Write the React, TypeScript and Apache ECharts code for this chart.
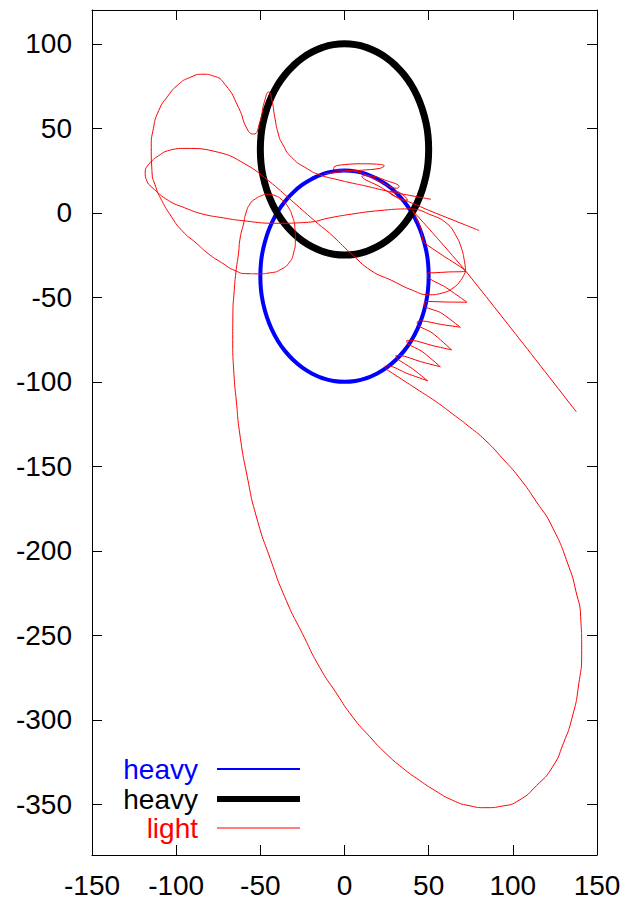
import React, { useEffect, useRef } from "react";
import * as echarts from "echarts";

// Axis ranges / ticks
const xRange = [-150, 150];
const yRange = [-380, 120];
const tickStep = 50;

// Legend labels
const legendLabels = ["heavy", "heavy", "light"];
const seriesColors = ["#0000ff", "#000000", "#ff0000"];

// Heavy body 1 (blue) orbit
const heavyBlue: number[][] = [
  [50, -37.5], [49.6, -29.3], [48.3, -21.3], [46.2, -13.6], [43.3, -6.2], [39.7, 0.6], [35.4, 6.7],
  [30.4, 12.1], [25, 16.6], [19.1, 20.2], [12.9, 22.9], [6.5, 24.5], [0, 25],
  [-6.5, 24.5], [-12.9, 22.9], [-19.1, 20.2], [-25, 16.6], [-30.4, 12.1], [-35.4, 6.7], [-39.7, 0.6],
  [-43.3, -6.2], [-46.2, -13.6], [-48.3, -21.3], [-49.6, -29.3], [-50, -37.5],
  [-49.6, -45.7], [-48.3, -53.7], [-46.2, -61.4], [-43.3, -68.8], [-39.7, -75.6], [-35.4, -81.7],
  [-30.4, -87.1], [-25, -91.6], [-19.1, -95.2], [-12.9, -97.9], [-6.5, -99.5], [0, -100],
  [6.5, -99.5], [12.9, -97.9], [19.1, -95.2], [25, -91.6], [30.4, -87.1], [35.4, -81.7], [39.7, -75.6],
  [43.3, -68.8], [46.2, -61.4], [48.3, -53.7], [49.6, -45.7], [50, -37.5],
];

// Heavy body 2 (black) orbit
const heavyBlack: number[][] = [
  [50, 37.5], [49.6, 45.7], [48.3, 53.7], [46.2, 61.4], [43.3, 68.8], [39.7, 75.6], [35.4, 81.7],
  [30.4, 87.1], [25, 91.6], [19.1, 95.2], [12.9, 97.9], [6.5, 99.5], [0, 100],
  [-6.5, 99.5], [-12.9, 97.9], [-19.1, 95.2], [-25, 91.6], [-30.4, 87.1], [-35.4, 81.7], [-39.7, 75.6],
  [-43.3, 68.8], [-46.2, 61.4], [-48.3, 53.7], [-49.6, 45.7], [-50, 37.5],
  [-49.6, 29.3], [-48.3, 21.3], [-46.2, 13.6], [-43.3, 6.2], [-39.7, -0.6], [-35.4, -6.7],
  [-30.4, -12.1], [-25, -16.6], [-19.1, -20.2], [-12.9, -22.9], [-6.5, -24.5], [0, -25],
  [6.5, -24.5], [12.9, -22.9], [19.1, -20.2], [25, -16.6], [30.4, -12.1], [35.4, -6.7], [39.7, -0.6],
  [43.3, 6.2], [46.2, 13.6], [48.3, 21.3], [49.6, 29.3], [50, 37.5],
];

// Light body: heart lobe + big lower loop
const lightMain: number[][] = [
  [51.4, 8], [35, 11], [24.7, 13], [12, 16], [4.9, 17.5], [-3.7, 19.5], [-14.8, 22.5],
  [-22, 26], [-31.4, 32.8], [-37, 41], [-39.3, 46.6], [-41.5, 57], [-43, 66], [-45, 71.5],
  [-47.5, 66], [-50.5, 53], [-54, 46.6], [-57.5, 49], [-63, 62.4], [-71, 76], [-78, 81],
  [-84, 82], [-92, 80], [-98.6, 76], [-105, 69], [-110.4, 60.4], [-113.5, 50], [-114.8, 38.7],
  [-114.4, 25], [-112, 15], [-108.5, 7.2], [-103, -2], [-96.6, -10.5], [-88, -18], [-80.8, -24.3],
  [-73, -29.5], [-65, -34.2], [-58, -36], [-51.2, -36.1], [-44, -35.5], [-37.3, -33.2],
  [-32.5, -29], [-30.4, -24.3], [-29.2, -16], [-29.5, -8.6], [-31, -2], [-33.4, 3.3],
  [-37, 7.5], [-41.3, 10.2], [-45.5, 11], [-49.2, 10.2], [-53, 8.2], [-56.1, 5.3], [-58.5, 0],
  [-60, -6.6], [-62, -15], [-63, -24.3], [-64.5, -35], [-65.5, -46], [-66.3, -60], [-66.4, -75],
  [-65.7, -95], [-64.2, -112], [-62.2, -130.9], [-57.8, -156], [-52.3, -180], [-44, -205],
  [-34.6, -229.4], [-25, -249], [-14.8, -268.9], [-5, -284], [4.9, -298.4], [15, -310],
  [24.7, -320], [34.5, -328.5], [44.5, -335.8], [54, -342], [64.2, -347.6], [74, -350.8],
  [84, -352], [94, -351], [103.7, -347.6], [114, -339], [123.5, -328], [130, -314],
  [135.3, -298.4], [139, -280], [140.9, -259], [140.3, -239], [137.5, -224], [133.4, -209.7],
  [123.5, -186], [114, -171], [103.7, -156.6], [94, -145.5], [84, -134.9], [74, -126.5],
  [64.2, -119], [54, -111.5], [44.5, -105.3], [34, -98.5], [24.7, -92.5],
];

// Light body: spikes along the blue orbit and the escape
const lightSpikes: number[][] = [
  [24.7, -92.5], [24, -91], [26, -90.5], [37, -95], [49.4, -99.4], [40, -92], [31.5, -86.5],
  [30.5, -84.5], [33, -84.5], [45, -88], [56.9, -91.1], [46, -82], [37.5, -77.5], [37, -75.5],
  [40, -75.5], [52, -78.5], [63.6, -81.1], [52, -71], [43.5, -66.5], [43.2, -64.5], [46, -64],
  [57, -66], [68.8, -67.7], [57, -59], [47.4, -55], [47.4, -53], [50, -52.5], [61, -52.8],
  [72.7, -52.9], [60, -44], [49.4, -37.5], [49.5, -35.5], [52, -35.5], [62, -35], [72, -34.5],
  [58, -25], [47, -17.5], [46.5, -16], [45, -8], [40.5, 1.3], [56, -16], [72, -34.5],
  [105, -76], [137.7, -117.7],
];

// Light body: flat lobe + right lobe
const lightLobe: number[][] = [
  [72, -34.5], [69, -40], [64.5, -44.5], [58, -47.5], [50, -48.5], [40.5, -45.9], [28, -40],
  [15.8, -34.2], [4.1, -24.3], [-8.9, -12], [-15.6, -6.6], [-31.4, 7.2], [-45.2, 19],
  [-59.1, 28.9], [-74.9, 35.8], [-94.7, 38.1], [-104, 37], [-110.4, 33.8], [-116, 29],
  [-118.4, 24], [-117.5, 19], [-114.4, 15.1], [-104.5, 7.2], [-95, 3], [-84.8, -0.6],
  [-72, -3], [-61, -4.6], [-41.3, -6.2], [-21.5, -5.6], [-8.9, -3], [4.1, -0.8], [20.7, 1.3],
  [38.5, 2.3], [52, -1.5], [61, -6.5], [66.2, -13.5], [69.5, -21], [71.2, -28.3], [72, -34.5],
];

// Light body: small loops near the top of the blue orbit
const lightTop: number[][] = [
  [80, -10.5], [65, -4.5], [50, 1.5], [40, 5.8], [33, 8.5], [27.5, 11], [27, 12.3], [30, 12.8],
  [35.5, 10], [37.5, 7.5], [35, 7.5], [29, 10.5], [20, 16], [12, 19.8], [10.3, 21.5], [14, 22],
  [25, 19], [32.5, 15.5], [31, 14.5], [22, 18], [10, 23.5], [0, 25.3], [-6.5, 25.5], [-6, 27.3],
  [0, 28.5], [10, 29], [19, 28.8], [23.7, 27.8], [21, 26.3], [10, 25.2], [0, 24.5], [-12, 23],
];

const FONT = "Liberation Sans, Arial, Helvetica, sans-serif";

export default function App() {
  const ref = useRef<HTMLDivElement>(null);

  useEffect(() => {
    if (!ref.current) return;
    const chart = echarts.init(ref.current, undefined, { renderer: "svg" });
    const gridLeft = 92, gridTop = 10, gridRight = 32, gridBottom = 47;

    const labelFmt = (v: number) => (v % tickStep === 0 ? String(v) : "");
    const commonAxisLine = { show: true, onZero: false, lineStyle: { color: "#000", width: 1 } };
    const commonTick = { show: true, inside: true, length: 10, lineStyle: { color: "#000", width: 1 } };

    const redSeries = (data: number[][], smooth: number, constrain: boolean) => ({
      type: "line",
      name: "light",
      data,
      smooth,
      smoothConstraint: constrain,
      showSymbol: false,
      symbol: "none",
      lineStyle: { color: seriesColors[2], width: 1 },
      z: 4,
    });

    const legendY = [769, 799, 828];
    const legendWidths = [2, 6, 1];
    const graphic: any[] = [];
    legendLabels.forEach((lab, i) => {
      graphic.push({
        type: "text",
        x: 198,
        y: legendY[i],
        style: {
          text: lab,
          fill: seriesColors[i],
          font: `28px ${FONT}`,
          align: "right",
          verticalAlign: "middle",
        },
        z: 100,
      });
      graphic.push({
        type: "line",
        shape: { x1: 217, y1: legendY[i], x2: 300, y2: legendY[i] },
        style: { stroke: seriesColors[i], lineWidth: legendWidths[i] },
        z: 100,
      });
    });

    chart.setOption({
      animation: false,
      backgroundColor: "#fff",
      grid: { left: gridLeft, top: gridTop, right: gridRight, bottom: gridBottom, containLabel: false },
      xAxis: [
        {
          type: "value",
          position: "bottom",
          min: xRange[0],
          max: xRange[1],
          interval: tickStep,
          axisLine: commonAxisLine,
          axisTick: commonTick,
          splitLine: { show: false },
          axisLabel: { color: "#000", fontSize: 28, fontFamily: FONT, margin: 16, formatter: labelFmt },
        },
        {
          type: "value",
          position: "top",
          min: xRange[0],
          max: xRange[1],
          interval: tickStep,
          axisLine: commonAxisLine,
          axisTick: commonTick,
          splitLine: { show: false },
          axisLabel: { show: false },
        },
      ],
      yAxis: [
        {
          type: "value",
          position: "left",
          min: yRange[0],
          max: yRange[1],
          splitNumber: 10,
          axisLine: commonAxisLine,
          axisTick: commonTick,
          splitLine: { show: false },
          axisLabel: {
            color: "#000",
            fontSize: 28,
            fontFamily: FONT,
            margin: 20,
            showMinLabel: false,
            showMaxLabel: false,
            formatter: labelFmt,
          },
        },
        {
          type: "value",
          position: "right",
          min: yRange[0],
          max: yRange[1],
          splitNumber: 10,
          axisLine: commonAxisLine,
          axisTick: commonTick,
          splitLine: { show: false },
          axisLabel: { show: false },
        },
      ],
      series: [
        {
          type: "line",
          name: "heavy",
          data: heavyBlue,
          smooth: 0.5,
          smoothConstraint: false,
          showSymbol: false,
          symbol: "none",
          lineStyle: { color: seriesColors[0], width: 4 },
          z: 2,
        },
        {
          type: "line",
          name: "heavy",
          data: heavyBlack,
          smooth: 0.5,
          smoothConstraint: false,
          showSymbol: false,
          symbol: "none",
          lineStyle: { color: seriesColors[1], width: 7 },
          z: 3,
        },
        redSeries(lightMain, 0.6, false),
        redSeries(lightSpikes, 0.25, true),
        redSeries(lightLobe, 0.5, false),
        redSeries(lightTop, 0.4, true),
      ],
      graphic,
    });

    return () => chart.dispose();
  }, []);

  return (
    <div
      ref={ref}
      style={{ position: "absolute", left: 0, top: 0, width: 629, height: 902, background: "#fff" }}
    />
  );
}
